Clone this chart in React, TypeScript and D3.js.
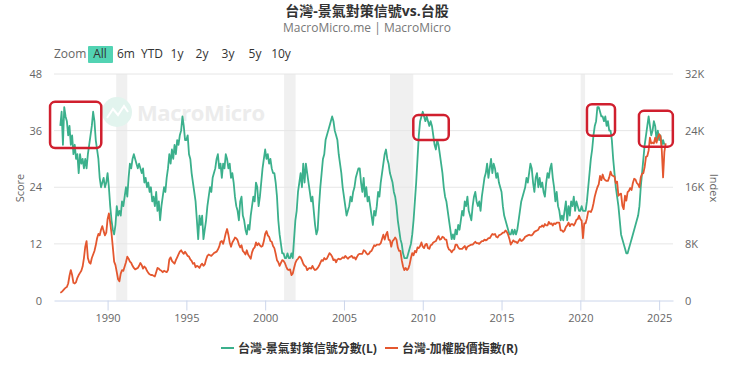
import React, { useRef, useEffect } from 'react';
import * as d3 from 'd3';

// monthly 景氣對策信號分數, one row per year from 1987 (Jan..Dec)
const scoreMonthly: number[][] = [
    [37, 40, 33, 41, 39, 38, 35, 37, 33, 35, 31, 33], // 1987
    [30, 31, 27, 31, 29, 30, 28, 30, 28, 31, 33, 35],
    [37, 40, 38, 34, 32, 30, 26, 24, 25, 26, 24, 25],
    [27, 24, 20, 17, 15, 14, 16, 20, 18, 19, 18, 21], // 1990
    [20, 22, 24, 22, 26, 29, 28, 30, 31, 30, 29, 28],
    [29, 28, 27, 28, 25, 26, 24, 25, 23, 24, 21, 22],
    [20, 23, 19, 21, 17, 20, 22, 24, 23, 26, 28, 31],
    [29, 32, 30, 33, 31, 34, 33, 35, 36, 39, 37, 34],
    [34, 35, 31, 30, 27, 25, 23, 21, 17, 13, 18, 16], // 1995
    [18, 13, 15, 17, 20, 22, 24, 23, 26, 27, 28, 30],
    [31, 28, 29, 26, 29, 28, 31, 30, 28, 29, 26, 27],
    [25, 22, 20, 19, 17, 21, 22, 18, 17, 15, 14, 16],
    [15, 18, 20, 22, 21, 25, 24, 20, 22, 25, 28, 30],
    [32, 30, 31, 29, 30, 28, 27, 27, 25, 22, 17, 14], // 2000
    [12, 10, 10, 9, 9, 10, 9, 9, 10, 9, 13, 17],
    [19, 23, 25, 27, 24, 29, 25, 29, 27, 25, 23, 21],
    [22, 19, 16, 14, 15, 20, 24, 27, 30, 31, 34, 35],
    [36, 37, 38, 39, 38, 36, 35, 34, 31, 29, 27, 24],
    [22, 20, 18, 19, 20, 22, 21, 23, 24, 26, 27, 28], // 2005
    [28, 25, 23, 26, 22, 24, 21, 22, 20, 18, 16, 19],
    [18, 20, 23, 22, 25, 27, 29, 31, 32, 30, 29, 27],
    [26, 25, 23, 22, 20, 17, 15, 13, 12, 10, 9, 9],
    [9, 10, 11, 12, 14, 17, 21, 25, 30, 35, 38, 39],
    [40, 39, 38, 39, 38, 37, 38, 37, 35, 33, 32, 34], // 2010
    [33, 31, 29, 27, 24, 22, 21, 19, 17, 15, 13, 14],
    [13, 15, 14, 16, 15, 17, 19, 18, 21, 20, 22, 19],
    [18, 17, 20, 22, 23, 21, 20, 21, 19, 22, 24, 26],
    [27, 29, 26, 28, 30, 27, 29, 28, 26, 27, 25, 24],
    [23, 20, 18, 17, 16, 15, 14, 14, 15, 14, 15, 14], // 2015
    [15, 17, 19, 21, 22, 23, 24, 26, 25, 27, 29, 28],
    [25, 23, 26, 27, 24, 26, 24, 25, 23, 22, 25, 27],
    [26, 28, 29, 26, 24, 21, 23, 20, 19, 17, 18, 17],
    [19, 21, 17, 20, 18, 21, 20, 22, 19, 21, 20, 19],
    [19, 20, 19, 19, 19, 21, 24, 27, 30, 32, 35, 37], // 2020
    [38, 41, 41, 40, 39, 39, 38, 39, 37, 38, 36, 36],
    [34, 30, 27, 24, 22, 20, 17, 14, 13, 12, 11, 10],
    [10, 11, 12, 13, 14, 15, 16, 17, 18, 20, 24, 27],
    [30, 33, 35, 37, 39, 37, 35, 36, 38, 37, 34, 36],
    [34, 35, 33, 34, 33], // 2025
];

// monthly 加權股價指數 (thousands), one row per year from 1987
const taiexMonthly: number[][] = [
    [1.1, 1.2, 1.4, 1.6, 1.8, 1.9, 2.4, 3.5, 4.3, 3.6, 2.5, 2.4], // 1987
    [2.6, 3.2, 3.6, 3.9, 4.2, 4.8, 6.0, 7.6, 8.4, 6.0, 5.4, 5.2],
    [6.0, 6.5, 7.0, 7.8, 8.8, 9.4, 9.2, 10.0, 10.5, 9.8, 9.2, 9.6],
    [11.5, 12.3, 11.0, 9.5, 7.5, 5.5, 5.0, 4.0, 3.0, 2.7, 3.8, 4.3], // 1990
    [4.2, 4.8, 5.4, 6.2, 5.9, 5.5, 5.3, 4.9, 4.6, 4.4, 4.5, 4.6],
    [4.9, 5.3, 5.0, 4.5, 4.8, 4.6, 4.2, 3.9, 3.7, 3.6, 3.6, 3.5],
    [3.4, 4.0, 4.6, 4.5, 4.3, 4.2, 4.0, 4.2, 4.1, 4.0, 4.3, 5.8],
    [6.1, 5.6, 5.4, 5.2, 5.7, 6.1, 6.5, 6.9, 7.1, 6.8, 6.6, 6.9],
    [6.6, 6.3, 6.2, 5.8, 5.6, 5.2, 5.3, 4.7, 4.9, 4.8, 4.6, 5.0], // 1995
    [5.2, 4.9, 5.1, 5.8, 6.3, 6.5, 6.4, 6.3, 6.5, 6.7, 6.8, 6.9],
    [7.2, 7.6, 8.3, 8.4, 8.0, 8.7, 9.5, 10.1, 9.3, 8.2, 7.6, 8.2],
    [8.5, 8.9, 8.8, 8.5, 7.9, 7.5, 7.8, 7.0, 6.8, 6.5, 7.1, 6.5],
    [6.2, 5.9, 6.8, 7.3, 7.5, 8.2, 7.8, 8.1, 7.8, 7.6, 7.7, 8.4],
    [9.4, 9.8, 9.2, 9.0, 8.4, 8.3, 7.7, 7.4, 6.6, 5.7, 5.4, 4.9], // 2000
    [5.3, 5.7, 5.6, 5.3, 4.8, 4.4, 4.3, 4.4, 3.6, 3.8, 4.6, 5.3],
    [5.7, 5.9, 6.2, 6.1, 5.7, 5.2, 4.9, 4.8, 4.3, 4.5, 4.6, 4.5],
    [4.9, 4.5, 4.3, 4.4, 4.6, 4.9, 5.3, 5.7, 5.6, 6.0, 5.8, 5.9],
    [6.3, 6.7, 6.5, 6.2, 5.7, 5.8, 5.4, 5.8, 5.9, 5.8, 5.9, 6.1],
    [6.0, 6.3, 6.1, 5.9, 6.1, 6.2, 6.3, 6.0, 6.1, 5.8, 6.2, 6.5], // 2005
    [6.6, 6.6, 6.6, 7.1, 7.0, 6.7, 6.5, 6.6, 6.9, 7.0, 7.4, 7.8],
    [7.7, 7.9, 7.9, 7.9, 8.1, 8.7, 9.3, 8.6, 9.3, 9.7, 8.6, 8.5],
    [7.6, 8.4, 8.6, 8.9, 8.6, 7.5, 7.0, 7.0, 5.7, 4.8, 4.3, 4.6],
    [4.3, 4.5, 5.1, 6.0, 6.7, 6.4, 7.0, 6.8, 7.5, 7.4, 7.7, 8.2],
    [7.6, 7.4, 7.9, 8.0, 7.4, 7.3, 7.8, 7.9, 8.2, 8.3, 8.4, 8.8], // 2010
    [9.1, 8.6, 8.7, 9.0, 8.9, 8.6, 8.6, 7.6, 7.2, 7.1, 6.8, 7.1],
    [7.2, 7.9, 7.9, 7.5, 7.3, 7.3, 7.3, 7.5, 7.7, 7.2, 7.6, 7.7],
    [7.8, 7.9, 7.9, 8.1, 8.3, 8.1, 8.1, 8.0, 8.2, 8.4, 8.4, 8.6],
    [8.5, 8.6, 8.8, 8.8, 9.1, 9.4, 9.3, 9.4, 9.0, 8.9, 9.2, 9.3],
    [9.4, 9.6, 9.6, 9.9, 9.7, 9.3, 8.7, 7.9, 8.2, 8.5, 8.3, 8.3], // 2015
    [8.1, 8.4, 8.7, 8.4, 8.5, 8.7, 9.0, 9.1, 9.2, 9.3, 9.2, 9.2],
    [9.4, 9.7, 9.8, 9.9, 10.0, 10.4, 10.4, 10.6, 10.4, 10.8, 10.6, 10.6],
    [11.1, 10.8, 10.9, 10.6, 10.9, 10.8, 11.0, 11.0, 11.0, 9.9, 9.9, 9.7],
    [9.9, 10.4, 10.6, 11.0, 10.5, 10.8, 10.8, 10.6, 10.9, 11.4, 11.5, 12.0],
    [11.5, 11.3, 8.8, 10.9, 10.9, 11.6, 12.6, 12.6, 12.5, 12.9, 13.7, 14.7], // 2020
    [15.4, 16.0, 16.4, 17.6, 17.0, 17.8, 17.2, 17.0, 16.9, 16.9, 17.4, 18.2],
    [17.7, 17.6, 17.5, 16.6, 16.8, 14.8, 15.0, 15.1, 13.4, 12.9, 14.8, 14.1],
    [15.3, 15.5, 15.9, 15.6, 16.6, 17.2, 17.1, 16.6, 16.4, 16.0, 17.4, 17.9],
    [18.0, 18.9, 20.3, 20.4, 21.2, 23.0, 22.2, 22.3, 22.2, 23.0, 22.3, 23.0],
    [23.5, 23.2, 21.3, 17.4, 21.0, 22.2], // 2025
];

const firstYear = 1987;
const scoreTicks = [0, 12, 24, 36, 48];
const indexTicks = [0, 8, 16, 24, 32];
const yearTicks = [1990, 1995, 2000, 2005, 2010, 2015, 2020, 2025];
const rangeButtons = ['Zoom', 'All', '6m', 'YTD', '1y', '2y', '3y', '5y', '10y'];
// shaded recession periods (decimal years)
const recessions: [number, number][] = [
    [1990.55, 1991.25],
    [2001.2, 2001.93],
    [2007.92, 2009.4],
    [2020.02, 2020.3],
];
// red highlight boxes: [year from, year to, score low, score high]
const highlights: [number, number, number, number][] = [
    [1986.35, 1989.6, 32.3, 42.1],
    [2009.4, 2011.65, 34.0, 39.3],
    [2020.42, 2022.2, 34.9, 41.6],
    [2023.72, 2025.87, 32.6, 40.2],
];

const seriesNames = ['台灣-景氣對策信號分數(L)', '台灣-加權股價指數(R)'];
const GREEN = '#3bb08c';
const RED = '#e4572f';

const toPoints = (rows: number[][]) =>
    rows.flatMap((row, yi) => row.map((v, m) => ({ t: firstYear + yi + m / 12, v })));

const Chart = ({ width, height }: { width: number; height: number }) => {
    const svgRef = useRef<SVGSVGElement | null>(null);

    useEffect(() => {
        const svg = d3.select(svgRef.current);
        svg.selectAll('*').remove();
        const font = '"Open Sans", "Noto Sans", "Noto Sans CJK TC", sans-serif';
        const plot = { left: 54, right: 673, top: 74, bottom: 300.5 };

        const x = d3.scaleLinear().domain([1986.6, 2025.88]).range([plot.left, plot.right]);
        const yL = d3.scaleLinear().domain([0, 48]).range([plot.bottom, plot.top]);
        const yR = d3.scaleLinear().domain([0, 32]).range([plot.bottom, plot.top]);

        // title
        svg.append('text').attr('x', 367).attr('y', 16).attr('text-anchor', 'middle')
            .attr('font-family', font).attr('font-size', 14).attr('font-weight', 'bold')
            .attr('fill', '#333').text('台灣-景氣對策信號vs.台股');
        svg.append('text').attr('x', 367).attr('y', 32).attr('text-anchor', 'middle')
            .attr('font-family', font).attr('font-size', 12).attr('fill', '#777')
            .text('MacroMicro.me | MacroMicro');

        // range selector
        const btnX = [54, 100, 126, 152, 177, 202, 228, 255, 281];
        rangeButtons.forEach((b, i) => {
            if (b === 'All') {
                svg.append('rect').attr('x', 88).attr('y', 46).attr('width', 25).attr('height', 17)
                    .attr('rx', 1).attr('fill', '#52d3b3');
            }
            svg.append('text').attr('x', btnX[i]).attr('y', 58)
                .attr('text-anchor', i === 0 ? 'start' : 'middle')
                .attr('font-family', font).attr('font-size', 12)
                .attr('fill', i === 0 ? '#666' : '#333').text(b);
        });

        // recession bands
        svg.append('g').selectAll('rect').data(recessions).join('rect')
            .attr('x', d => x(d[0])).attr('width', d => x(d[1]) - x(d[0]))
            .attr('y', plot.top).attr('height', plot.bottom - plot.top).attr('fill', '#f0f0f0');

        // gridlines
        svg.append('g').selectAll('line').data(scoreTicks.slice(1)).join('line')
            .attr('x1', plot.left).attr('x2', plot.right)
            .attr('y1', d => yL(d)).attr('y2', d => yL(d))
            .attr('stroke', '#e6e6e6').attr('stroke-width', 1);

        // watermark
        const wm = svg.append('g');
        wm.append('circle').attr('cx', 117).attr('cy', 112).attr('r', 15).attr('fill', '#e2f4ee');
        wm.append('path').attr('d', 'M107,118 L113,109 L118,115 L124,106 L128,112')
            .attr('fill', 'none').attr('stroke', '#fff').attr('stroke-width', 2);
        wm.append('text').attr('x', 137).attr('y', 121).attr('font-family', font)
            .attr('font-size', 22).attr('font-weight', 'bold').attr('fill', '#ececec')
            .attr('textLength', 128).text('MacroMicro');

        // x axis
        const xAxis = svg.append('g').attr('transform', `translate(0,${plot.bottom})`)
            .call(d3.axisBottom(x).tickValues(yearTicks).tickFormat(d3.format('d')).tickSize(10).tickPadding(4).tickSizeOuter(0));
        xAxis.select('.domain').attr('stroke', '#ccd6eb');
        xAxis.selectAll('.tick line').attr('stroke', '#ccd6eb');
        xAxis.selectAll('text').attr('font-family', font).attr('font-size', 11).attr('fill', '#666');

        const yAxisL = svg.append('g').attr('transform', `translate(${plot.left},0)`)
            .call(d3.axisLeft(yL).tickValues(scoreTicks).tickSize(0).tickPadding(12));
        const yAxisR = svg.append('g').attr('transform', `translate(${plot.right},0)`)
            .call(d3.axisRight(yR).tickValues(indexTicks).tickFormat(d => (+d === 0 ? '0' : `${d}K`)).tickSize(0).tickPadding(12));
        [yAxisL, yAxisR].forEach(a => {
            a.select('.domain').remove();
            a.selectAll('text').attr('font-family', font).attr('font-size', 11).attr('fill', '#666');
        });

        svg.append('text').attr('transform', 'translate(24,188) rotate(-90)').attr('text-anchor', 'middle')
            .attr('font-family', font).attr('font-size', 11).attr('fill', '#666').text('Score');
        svg.append('text').attr('transform', 'translate(710,188) rotate(90)').attr('text-anchor', 'middle')
            .attr('font-family', font).attr('font-size', 11).attr('fill', '#666').text('Index');

        // lines
        const scorePts = toPoints(scoreMonthly);
        const taiexPts = toPoints(taiexMonthly);
        svg.append('path').datum(scorePts)
            .attr('d', d3.line<{ t: number; v: number }>().x(d => x(d.t)).y(d => yL(d.v)))
            .attr('fill', 'none').attr('stroke', GREEN).attr('stroke-width', 1.8).attr('stroke-linejoin', 'round');
        svg.append('path').datum(taiexPts)
            .attr('d', d3.line<{ t: number; v: number }>().x(d => x(d.t)).y(d => yR(d.v)))
            .attr('fill', 'none').attr('stroke', RED).attr('stroke-width', 1.8).attr('stroke-linejoin', 'round');

        // highlight boxes
        svg.append('g').selectAll('rect').data(highlights).join('rect')
            .attr('x', d => x(d[0])).attr('width', d => x(d[1]) - x(d[0]))
            .attr('y', d => yL(d[3])).attr('height', d => yL(d[2]) - yL(d[3]))
            .attr('rx', 5).attr('fill', 'none').attr('stroke', '#d01f2e').attr('stroke-width', 2.5);

        // legend
        const legend = svg.append('g').attr('transform', 'translate(0,348)');
        const lx = [221, 385];
        [GREEN, RED].forEach((c, i) => {
            legend.append('line').attr('x1', lx[i]).attr('x2', lx[i] + 13).attr('y1', 0).attr('y2', 0)
                .attr('stroke', c).attr('stroke-width', 2);
            legend.append('text').attr('x', lx[i] + 17).attr('y', 4.5).attr('font-family', font)
                .attr('font-size', 12).attr('font-weight', 'bold').attr('fill', '#333').text(seriesNames[i]);
        });
    }, [width, height]);

    return <svg ref={svgRef} width={width} height={height} style={{ position: 'absolute', left: 0, top: 0, background: '#fff' }}></svg>;
};

export default function App() {
    return <Chart width={740} height={365} />;
}
